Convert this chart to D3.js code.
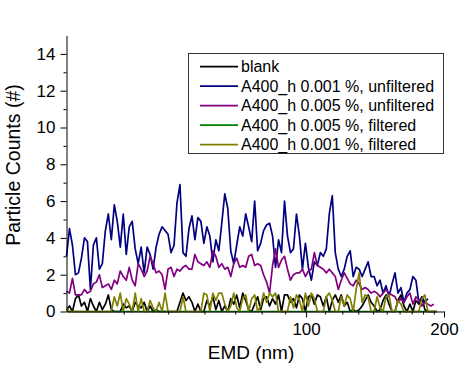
<!DOCTYPE html>
<html>
<head>
<meta charset="utf-8">
<script src="https://cdn.jsdelivr.net/npm/d3@7"></script>
<style>
  html, body { margin: 0; padding: 0; background: #fff; }
  svg { display: block; font-family: "Liberation Sans", Arial, sans-serif; }
</style>
</head>
<body>
<svg id="chart" width="461" height="369"></svg>
<script>
// EMD bin centres (nm), log-spaced
const emd = [30.00,30.45,30.91,31.38,31.86,32.34,32.83,33.33,33.83,34.34,
  34.86,35.39,35.92,36.47,37.02,37.58,38.15,38.72,39.31,39.90,
  40.51,41.12,41.74,42.37,43.01,43.66,44.32,44.99,45.67,46.36,
  47.06,47.77,48.50,49.23,49.97,50.73,51.50,52.27,53.06,53.87,
  54.68,55.51,56.35,57.20,58.06,58.94,59.83,60.74,61.66,62.59,
  63.54,64.50,65.47,66.46,67.47,68.49,69.52,70.57,71.64,72.73,
  73.83,74.94,76.08,77.23,78.39,79.58,80.78,82.00,83.24,84.50,
  85.78,87.08,88.39,89.73,91.09,92.46,93.86,95.28,96.72,98.18,
  99.67,101.17,102.70,104.26,105.83,107.43,109.06,110.71,112.38,114.08,
  115.81,117.56,119.34,121.14,122.97,124.83,126.72,128.63,130.58,132.55,
  134.56,136.59,138.66,140.75,142.88,145.04,147.23,149.46,151.72,154.01,
  156.34,158.70,161.10,163.54,166.01,168.52,171.07,173.65,176.28,178.94,
  181.65,184.39,187.18,190.01,192.88];

// Particle counts per bin
const blank = [0.1,0.3,0.0,0.7,0.9,0.3,0.5,0.0,0.7,0.3,
  0.0,0.5,0.1,0.4,0.9,0.1,0.0,0.0,0.0,0.4,
  0.2,0.3,0.0,0.5,0.3,0.2,0.5,0.0,0.3,0.0,
  0.1,0.0,0.0,0.0,0.0,0.0,0.0,0.0,0.5,1.0,
  0.6,0.8,0.5,0.0,0.4,0.0,0.0,0.6,0.3,0.8,
  0.1,0.6,0.0,0.3,0.0,0.7,0.4,0.9,0.2,1.0,
  0.6,0.1,0.0,0.4,0.8,0.1,0.7,0.8,0.3,0.7,
  0.4,0.9,0.0,0.9,0.9,0.5,0.7,0.2,0.9,0.7,
  0.0,0.8,0.9,0.4,0.9,0.8,0.3,0.8,0.0,0.6,
  0.9,0.5,0.9,0.3,0.5,0.0,0.1,0.0,0.1,0.3,
  0.6,0.9,0.5,0.3,0.0,0.1,0.6,0.9,0.4,0.0,
  0.0,0.6,0.9,0.3,0.0,0.4,0.0,0.6,0.4,0.8,
  0.1,0.0,0.0,0.0,0.0];

const unfiltered001 = [3.0,4.5,3.6,2.0,2.1,2.9,4.0,3.8,1.2,3.6,
  4.0,2.3,2.6,4.4,5.3,3.9,5.8,4.9,3.5,5.3,
  3.1,4.6,4.9,3.4,2.6,3.5,2.1,3.5,3.1,2.3,
  3.5,4.2,4.6,4.4,4.2,3.2,3.6,5.9,6.9,3.2,
  3.0,4.5,5.2,3.9,5.1,4.9,3.7,4.6,4.1,2.7,
  3.9,3.3,4.8,6.4,5.6,3.3,2.6,3.6,4.6,4.1,
  5.3,4.6,3.8,6.0,3.3,3.7,4.4,4.7,4.8,4.1,
  2.4,3.9,3.2,6.0,4.1,3.2,3.4,5.3,4.1,2.3,
  3.7,2.4,1.7,2.7,2.5,3.2,3.0,3.4,5.3,6.3,
  3.2,2.3,1.9,2.3,3.0,3.3,1.9,2.4,2.3,1.9,
  2.3,2.7,1.9,1.9,1.4,1.7,1.0,1.4,0.8,1.5,
  2.1,1.0,1.3,0.5,1.0,1.2,1.9,1.7,0.5,0.8,
  0.5,0.7];

const unfiltered005 = [1.1,1.0,1.8,0.9,0.9,0.9,1.2,1.0,1.1,1.5,
  1.6,2.0,1.3,1.4,1.5,1.2,1.7,1.5,2.2,1.9,
  1.7,2.4,1.7,1.4,2.6,2.3,1.9,2.2,3.0,2.6,
  2.1,2.2,2.0,1.2,2.3,2.4,1.9,2.3,2.2,2.4,
  2.5,2.3,2.3,3.1,2.7,2.6,2.5,2.7,2.4,3.3,
  3.0,2.4,2.6,2.3,2.4,1.9,2.6,2.9,2.4,2.5,
  2.4,3.0,3.1,2.5,2.6,2.5,2.0,1.6,1.0,2.5,
  3.4,2.4,2.8,3.0,2.3,1.7,2.0,2.1,2.1,2.3,
  1.9,2.2,2.3,3.2,2.5,2.4,2.3,2.1,2.3,2.1,
  1.9,1.2,1.7,2.1,1.8,1.5,1.4,1.7,1.5,1.2,
  1.3,1.2,1.0,1.1,1.0,0.8,1.0,1.2,1.0,0.9,
  0.8,0.5,0.7,0.5,0.8,1.0,0.4,0.8,0.6,0.3,
  0.5,0.4,0.3,0.4];

const filtered005 = [0,0,0,0,0,0,0,0,0,0, 0,0,0,0,0,0,0,0,0,0,
  0,0,0,0,0,0,0,0,0,0, 0,0,0,0,0,0,0,0,0,0,
  0,0,0,0,0,0,0,0,0,0, 0,0,0,0,0,0,0,0,0,0,
  0,0,0,0,0,0,0,0,0,0, 0,0,0,0,0,0,0,0,0,0,
  0,0,0,0,0,0,0,0,0,0, 0,0,0,0,0,0,0,0,0,0,
  0,0,0,0,0,0,0,0,0,0, 0,0,0,0,0,0,0,0,0,0,
  0,0,0,0,0];

const filtered001 = [0.2,0,0,0,0,0,0,0,0,0,
  0,0,0,0,0,0,0.8,0.3,1.0,0,
  0.7,0.4,0,1.0,0,0.7,0,0,0.6,0.2,
  0,0.5,0,1.0,0,0,0,0,0,0.8,
  0,0,0,0,0,0,1.0,0.9,0,1.0,
  0.6,1.0,1.0,0.4,0,0.3,1.0,0.2,0,0.7,
  0.9,0,0.7,0.9,0,0.3,1.0,0.5,1.0,0.8,
  1.0,0,0,0,0,0.8,0.2,0.9,0.6,0,
  1.0,0.3,1.0,0.7,0,0,0,0.8,1.0,0.6,
  0,0,0.8,0.3,0.9,0.7,0,1.2,2.1,0.5,
  0.9,0.8,0,0,0.8,0.2,0,0.8,0.9,0,
  0,0.6,0.4,0,0,0,0,0,0,0.7,
  0.9,0,0,0,0];

const seriesNames = ["blank", "A400_h 0.001 %, unfiltered", "A400_h 0.005 %, unfiltered",
  "A400_h 0.005 %, filtered", "A400_h 0.001 %, filtered"];
const seriesColors = ["#000000", "#000080", "#800080", "#008000", "#808000"];
const seriesValues = [blank, unfiltered001, unfiltered005, filtered005, filtered001];

const xMajor = [100, 200];
const xMinor = [40, 50, 60, 70, 80, 90, 110, 120, 130, 140, 150, 160, 170, 180, 190];
const yMajor = [0, 2, 4, 6, 8, 10, 12, 14];
const yMinor = [1, 3, 5, 7, 9, 11, 13];

const svg = d3.select("#chart");

const x = d3.scaleLog().domain([30, 200]).range([66.5, 444]);
const y = d3.scaleLinear().domain([0, 15]).range([311.5, 35.5]);

// series lines
const line = d3.line()
  .x((d, i) => x(emd[i]))
  .y(d => y(d));

const plot = svg.append("g");
seriesValues.forEach((vals, k) => {
  plot.append("path")
    .datum(vals)
    .attr("fill", "none")
    .attr("stroke", seriesColors[k])
    .attr("stroke-width", 1.7)
    .attr("stroke-linejoin", "round")
    .attr("d", line);
});

// axes
function styleAxis(g) {
  g.selectAll("path, line").attr("stroke", "#000").attr("stroke-width", 1);
  g.selectAll("text").attr("fill", "#000").attr("font-size", 17)
    .attr("font-family", "'Liberation Sans', Arial, sans-serif");
}

svg.append("g")
  .attr("transform", "translate(0,311.5)")
  .call(d3.axisBottom(x).tickValues(xMinor).tickSize(3).tickFormat(""))
  .call(g => g.select(".domain").remove())
  .call(styleAxis);

svg.append("g")
  .attr("transform", "translate(0,311.5)")
  .call(d3.axisBottom(x).tickValues(xMajor).tickFormat(d3.format("d"))
    .tickSizeInner(6).tickSizeOuter(0).tickPadding(5))
  .call(styleAxis);

svg.append("g")
  .attr("transform", "translate(66.5,0)")
  .call(d3.axisLeft(y).tickValues(yMinor).tickSize(3).tickFormat(""))
  .call(g => g.select(".domain").remove())
  .call(styleAxis);

svg.append("g")
  .attr("transform", "translate(66.5,0)")
  .call(d3.axisLeft(y).tickValues(yMajor).tickFormat(d3.format("d"))
    .tickSizeInner(6).tickSizeOuter(0).tickPadding(5))
  .call(styleAxis);

// axis titles
svg.append("text")
  .attr("x", 251).attr("y", 359)
  .attr("text-anchor", "middle")
  .attr("font-size", 19)
  .text("EMD (nm)");

svg.append("text")
  .attr("transform", "translate(20,165) rotate(-90)")
  .attr("text-anchor", "middle")
  .attr("font-size", 19.5)
  .text("Particle Counts (#)");

// legend
const legend = svg.append("g");
legend.append("rect")
  .attr("x", 188.5).attr("y", 53.5)
  .attr("width", 255).attr("height", 100)
  .attr("fill", "#fff").attr("stroke", "#333").attr("stroke-width", 1);

seriesNames.forEach((name, k) => {
  const cy = 66.7 + k * 19.5;
  legend.append("line")
    .attr("x1", 200).attr("x2", 238)
    .attr("y1", cy).attr("y2", cy)
    .attr("stroke", seriesColors[k]).attr("stroke-width", 1.7);
  legend.append("text")
    .attr("x", 241).attr("y", cy + 5.7)
    .attr("font-size", 16)
    .text(name);
});
</script>
</body>
</html>
